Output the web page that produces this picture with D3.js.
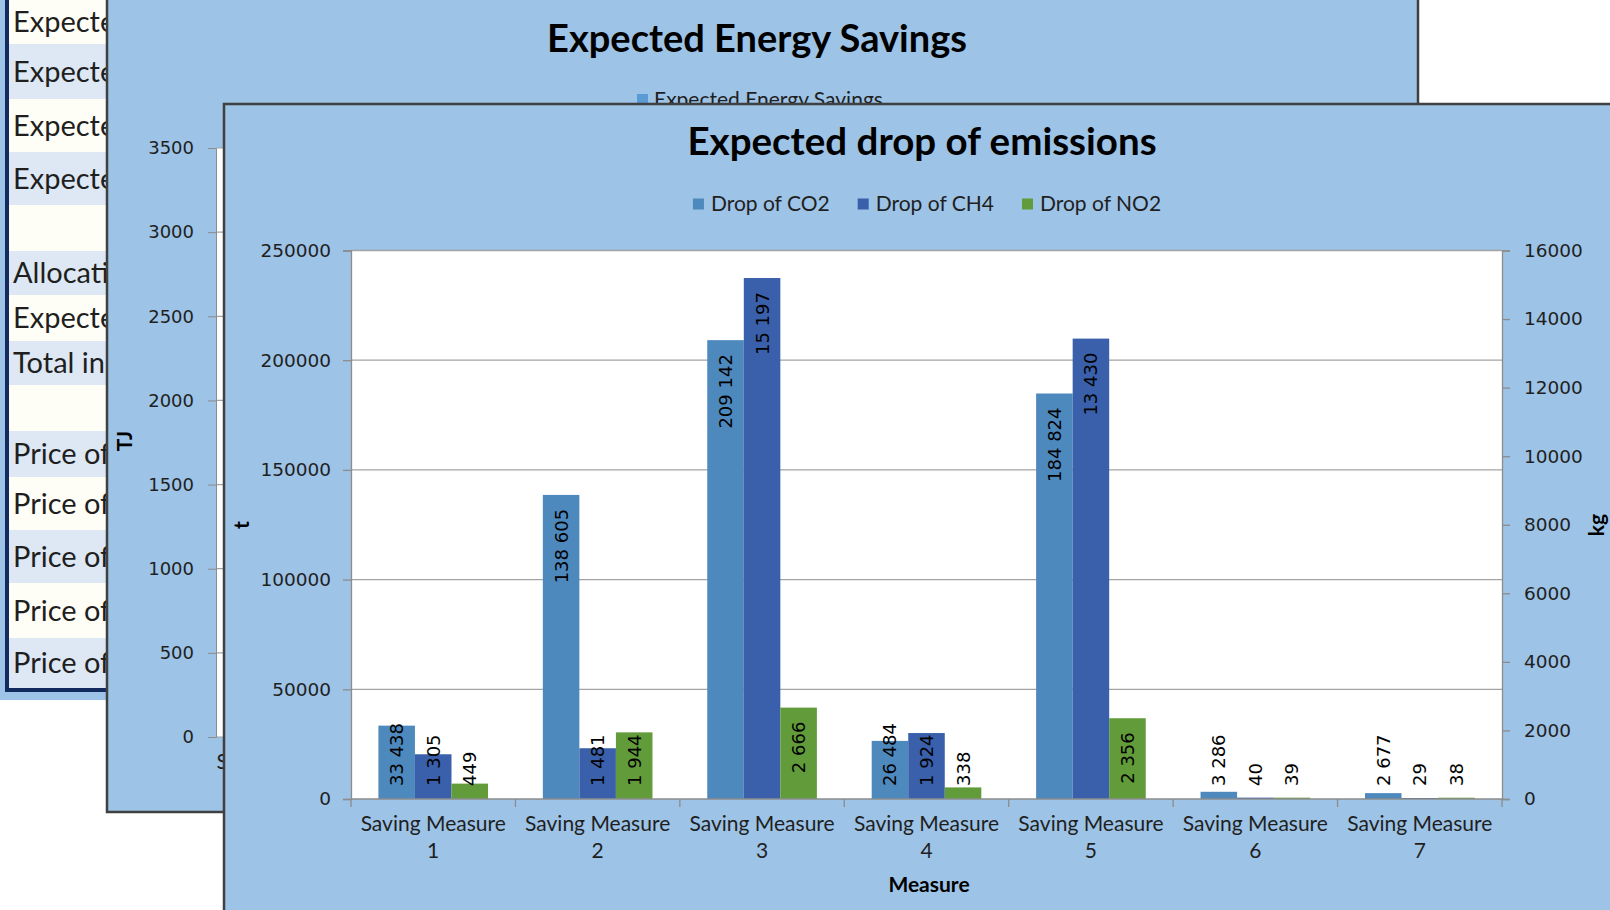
<!DOCTYPE html>
<html><head><meta charset="utf-8">
<script src="https://cdn.jsdelivr.net/npm/d3@7"></script>
<style>
html,body{margin:0;padding:0;background:#fff;overflow:hidden}
svg{display:block}
</style></head><body>
<svg id="c" width="1610" height="910"></svg>
<script>
// ---------------- data ----------------
const categories = ["Saving Measure 1","Saving Measure 2","Saving Measure 3","Saving Measure 4","Saving Measure 5","Saving Measure 6","Saving Measure 7"];
const seriesNames = ["Drop of CO2","Drop of CH4","Drop of NO2"];
const co2Values = [33438,138605,209142,26484,184824,3286,2677];   // t (left axis)
const ch4Values = [1305,1481,15197,1924,13430,40,29];             // kg (right axis)
const no2Values = [449,1944,2666,338,2356,39,38];                 // kg (right axis)
const leftTicks = [0,50000,100000,150000,200000,250000];
const rightTicks = [0,2000,4000,6000,8000,10000,12000,14000,16000];
const backTicks = [0,500,1000,1500,2000,2500,3000,3500];
const backTitle = "Expected Energy Savings";
const backLegend = ["Expected Energy Savings"];
const frontTitle = "Expected drop of emissions";
const tableRows = ["Expected","Expected","Expected","Expected","",
  "Allocation","Expected","Total in","","Price of","Price of","Price of","Price of","Price of"];

// ---------------- style ----------------
const PANEL = "#9dc3e6", BORDER = "#404040", GRID = "#a3a3a3", AXIS = "#8c8c8c", TXT = "#1f1f1f";
const COLORS = ["#4e89be","#3a60ab","#629b3a"];
const CAL = "Lato, 'Open Sans', sans-serif";
const VER = "'DejaVu Sans', Verdana, sans-serif";

const svg = d3.select("#c");

// ---------------- left table (background) ----------------
const rowEdges = [0,44,99,152,205,251,295,341,385,431,477,530,583,638,688];
const tbl = svg.append("g");
tbl.append("rect").attr("x",0).attr("y",0).attr("width",130).attr("height",700).attr("fill",PANEL);
tableRows.forEach((t,i)=>{
  tbl.append("rect").attr("x",9).attr("y",rowEdges[i]).attr("width",120)
    .attr("height",rowEdges[i+1]-rowEdges[i]).attr("fill", i%2===0 ? "#fffef6" : "#dde8f4");
  tbl.append("text").attr("x",13).attr("y",(rowEdges[i]+rowEdges[i+1])/2)
    .attr("dy","0.36em").attr("font-family",CAL).attr("font-size",29).attr("fill",TXT).text(t);
});
tbl.append("rect").attr("x",5).attr("y",0).attr("width",4).attr("height",692).attr("fill","#132a5e");
tbl.append("rect").attr("x",5).attr("y",688).attr("width",125).attr("height",4).attr("fill","#132a5e");

// ---------------- back chart (Expected Energy Savings) ----------------
const back = svg.append("g");
back.append("rect").attr("x",107).attr("y",-5).attr("width",1311).attr("height",817)
  .attr("fill",PANEL).attr("stroke",BORDER).attr("stroke-width",2.5);
back.append("text").attr("x",757).attr("y",39).attr("dy","0.35em").attr("text-anchor","middle")
  .attr("font-family",CAL).attr("font-weight","bold").attr("font-size",38).attr("fill","#000").text(backTitle);
const bl = back.append("g");
bl.append("rect").attr("x",637).attr("y",94).attr("width",11).attr("height",11).attr("fill","#5b9bd5");
bl.append("text").attr("x",654).attr("y",100).attr("dy","0.35em").attr("font-family",CAL).attr("font-size",21)
  .attr("fill",TXT).text(backLegend[0]);
const backY = d3.scaleLinear().domain([0,3500]).range([737,148]);
const backX = d3.scaleBand().domain(categories).range([216,1240]);
back.append("rect").attr("x",216).attr("y",148).attr("width",1164).attr("height",589).attr("fill","#fff");
back.selectAll(".bg").data(backTicks).join("line").attr("x1",216).attr("x2",1380)
  .attr("y1",d=>backY(d)).attr("y2",d=>backY(d)).attr("stroke",GRID).attr("stroke-width",1.2);
const bAxis = back.append("g").attr("transform","translate(216,0)")
  .call(d3.axisLeft(backY).tickValues(backTicks).tickSize(8).tickPadding(14).tickFormat(d3.format("d")));
bAxis.select(".domain").attr("stroke",AXIS);
bAxis.selectAll(".tick line").attr("stroke",AXIS);
bAxis.selectAll("text").attr("font-family",VER).attr("font-size",18).attr("fill",TXT);
back.append("text").attr("transform","translate(125,441) rotate(-90)").attr("dy","0.35em").attr("text-anchor","middle")
  .attr("font-family",CAL).attr("font-weight","bold").attr("font-size",21).attr("fill","#000").text("TJ");
back.append("text").attr("x",backX(categories[0])+backX.bandwidth()/2).attr("y",762).attr("dy","0.35em")
  .attr("text-anchor","middle").attr("font-family",CAL).attr("font-size",21).attr("fill",TXT).text("Saving Measure");

// ---------------- front chart (Expected drop of emissions) ----------------
const front = svg.append("g");
front.append("rect").attr("x",224).attr("y",104).attr("width",1420).attr("height",820)
  .attr("fill",PANEL).attr("stroke",BORDER).attr("stroke-width",2.5);
front.append("text").attr("x",922).attr("y",142).attr("dy","0.35em").attr("text-anchor","middle")
  .attr("font-family",CAL).attr("font-weight","bold").attr("font-size",38.5).attr("fill","#000").text(frontTitle);

// legend
const lg = front.append("g");
let lx = 0;
seriesNames.forEach((s,i)=>{
  const g = lg.append("g").attr("transform",`translate(${lx},0)`);
  g.append("rect").attr("x",0).attr("y",-5.5).attr("width",11).attr("height",11).attr("fill",COLORS[i]);
  const t = g.append("text").attr("x",18).attr("dy","0.35em").attr("font-family",CAL).attr("font-size",21)
    .attr("fill",TXT).text(s);
  lx += 18 + t.node().getComputedTextLength() + 28;
});
lx -= 28;
lg.attr("transform",`translate(${927 - lx/2},204)`);

const PL = 351, PR = 1502, PT = 250.5, PB = 799;
const x0 = d3.scaleBand().domain(categories).range([PL,PR]);
const x1 = d3.scaleBand().domain(seriesNames).range([0,x0.bandwidth()]).paddingInner(0).paddingOuter(0.75);
const yL = d3.scaleLinear().domain([0,250000]).range([PB,PT]);
const yR = d3.scaleLinear().domain([0,16000]).range([PB,PT]);

front.append("rect").attr("x",PL).attr("y",PT).attr("width",PR-PL).attr("height",PB-PT).attr("fill","#fff");
front.selectAll(".grid").data(leftTicks.slice(1)).join("line").attr("x1",PL).attr("x2",PR)
  .attr("y1",d=>yL(d)).attr("y2",d=>yL(d)).attr("stroke",GRID).attr("stroke-width",1.3);

const series = [
  {name:seriesNames[0], values:co2Values, y:yL},
  {name:seriesNames[1], values:ch4Values, y:yR},
  {name:seriesNames[2], values:no2Values, y:yR}
];
const fmt = d3.formatLocale({decimal:".",thousands:" ",grouping:[3],currency:["",""]}).format(",d");

const bars = [];
series.forEach((s,si)=>{
  s.values.forEach((v,ci)=>{
    bars.push({x:x0(categories[ci])+x1(s.name), w:x1.bandwidth(), top:s.y(v), v, color:COLORS[si]});
  });
});
front.selectAll(".bar").data(bars).join("rect").attr("x",d=>d.x).attr("width",d=>d.w)
  .attr("y",d=>d.top).attr("height",d=>PB-d.top).attr("fill",d=>d.color);

// axes
const axL = front.append("g").attr("transform",`translate(${PL},0)`)
  .call(d3.axisLeft(yL).tickValues(leftTicks).tickSize(8).tickPadding(12).tickFormat(d3.format("d")));
const axR = front.append("g").attr("transform",`translate(${PR},0)`)
  .call(d3.axisRight(yR).tickValues(rightTicks).tickSize(8).tickPadding(14).tickFormat(d3.format("d")));
[axL,axR].forEach(a=>{
  a.select(".domain").attr("stroke",AXIS).attr("stroke-width",1.3);
  a.selectAll(".tick line").attr("stroke",AXIS).attr("stroke-width",1.3);
  a.selectAll("text").attr("font-family",VER).attr("font-size",18.5).attr("fill",TXT);
});
// category axis
front.append("line").attr("x1",PL).attr("x2",PR).attr("y1",PB).attr("y2",PB).attr("stroke",AXIS).attr("stroke-width",1.3);
const edges = categories.map(c=>x0(c)).concat([PR]);
front.selectAll(".ctick").data(edges).join("line").attr("x1",d=>d).attr("x2",d=>d)
  .attr("y1",PB).attr("y2",PB+8).attr("stroke",AXIS).attr("stroke-width",1.3);
categories.forEach(c=>{
  const cx = x0(c)+x0.bandwidth()/2;
  const i = c.lastIndexOf(" ");
  const t = front.append("text").attr("text-anchor","middle").attr("font-family",CAL).attr("font-size",21).attr("fill",TXT);
  t.append("tspan").attr("x",cx).attr("y",824).attr("dy","0.35em").text(c.slice(0,i));
  t.append("tspan").attr("x",cx).attr("y",851).attr("dy","0.35em").text(c.slice(i+1));
});

// data labels (inside end, pushed to base when the bar is short)
const PAD = 14;
bars.forEach(b=>{
  const cx = b.x + b.w/2;
  const t = front.append("text").attr("font-family",VER).attr("font-size",18).attr("fill","#000")
    .attr("text-anchor","start").attr("dy","0.36em").text(fmt(b.v));
  const len = t.node().getComputedTextLength();
  let bottom = b.top + PAD + len;
  if (bottom > PB - 13) bottom = PB - 13;
  t.attr("transform",`translate(${cx},${bottom}) rotate(-90)`);
});

// axis titles
front.append("text").attr("transform","translate(242,525) rotate(-90)").attr("dy","0.35em").attr("text-anchor","middle")
  .attr("font-family",CAL).attr("font-weight","bold").attr("font-size",21).attr("fill","#000").text("t");
front.append("text").attr("transform","translate(1597,525) rotate(-90)").attr("dy","0.35em").attr("text-anchor","middle")
  .attr("font-family",CAL).attr("font-weight","bold").attr("font-size",21).attr("fill","#000").text("kg");
front.append("text").attr("x",929).attr("y",885).attr("dy","0.35em").attr("text-anchor","middle")
  .attr("font-family",CAL).attr("font-weight","bold").attr("font-size",21).attr("fill","#000").text("Measure");
</script>
</body></html>
